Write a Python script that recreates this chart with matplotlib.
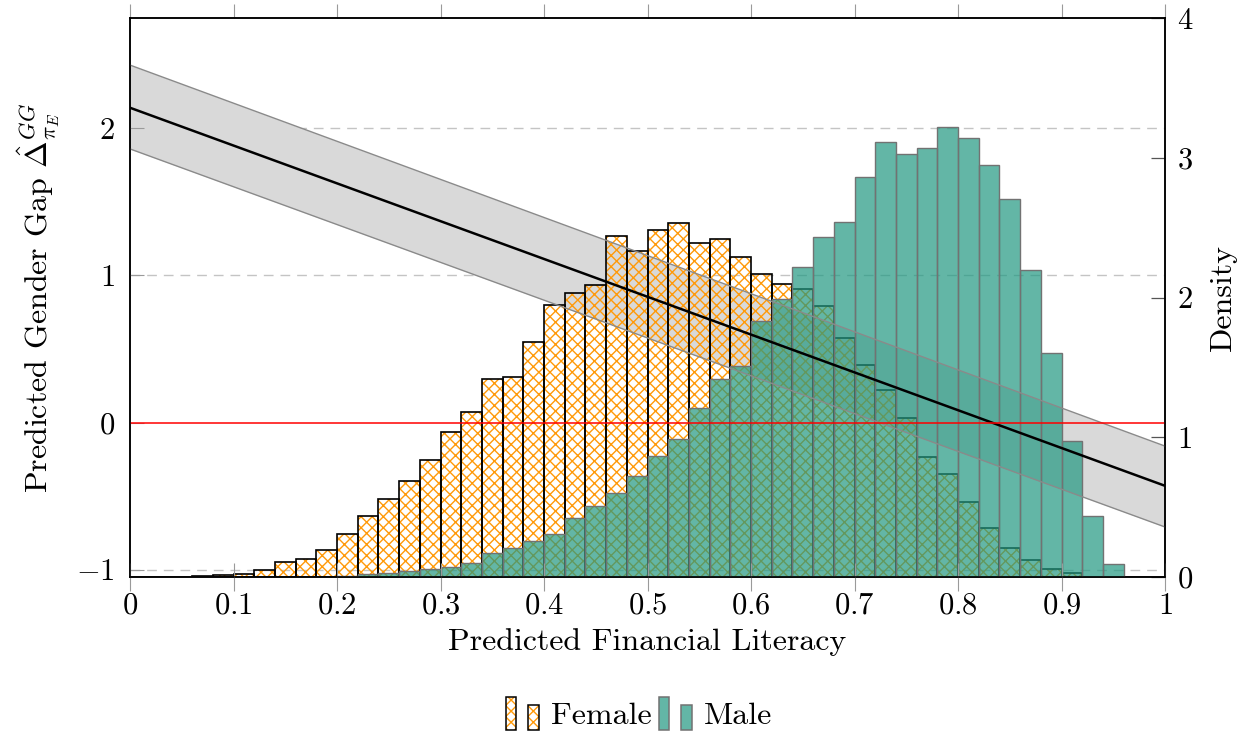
import numpy as np
import matplotlib
matplotlib.use("Agg")
import matplotlib.pyplot as plt
from matplotlib.colors import to_rgba
from matplotlib.patches import Patch, Rectangle
from matplotlib.legend_handler import HandlerBase
from matplotlib.ticker import FuncFormatter

plt.rcParams['font.family'] = 'serif'
plt.rcParams['font.serif'] = ['cmr10']
plt.rcParams['mathtext.fontset'] = 'cm'
plt.rcParams['axes.formatter.use_mathtext'] = True
plt.rcParams['hatch.linewidth'] = 1.0

# histogram bins (width 0.02) and densities
bin_edges = np.linspace(0, 1, 51)
female_density = [0, 0, 0.002, 0.007, 0.012, 0.02, 0.05, 0.11, 0.13, 0.19,
                  0.31, 0.436, 0.557, 0.686, 0.837, 1.04, 1.18, 1.415, 1.43, 1.68,
                  1.95, 2.03, 2.09, 2.44, 2.33, 2.48, 2.53, 2.39, 2.42, 2.29,
                  2.17, 2.10, 2.06, 1.94, 1.71, 1.52, 1.34, 1.14, 0.857, 0.735,
                  0.54, 0.35, 0.21, 0.124, 0.06, 0.026, 0, 0, 0, 0]
male_density = [0, 0, 0, 0, 0, 0, 0, 0, 0, 0,
                0.01, 0.02, 0.026, 0.04, 0.06, 0.07, 0.10, 0.17, 0.21, 0.258,
                0.31, 0.42, 0.51, 0.60, 0.72, 0.866, 0.985, 1.21, 1.42, 1.51,
                1.83, 1.99, 2.22, 2.435, 2.54, 2.86, 3.11, 3.03, 3.07, 3.22,
                3.14, 2.95, 2.705, 2.20, 1.605, 0.975, 0.44, 0.093, 0, 0]

# predicted gender gap (linear fit) with confidence band
fit_x = [0, 1]
fit_gap = [2.14, -0.43]
fit_lo = [1.86, -0.71]
fit_hi = [2.43, -0.16]

lit_ticks = np.round(np.linspace(0, 1, 11), 1)
gap_ticks = [-1, 0, 1, 2]
gap_grid = [-1, 1, 2]
density_ticks = [0, 1, 2, 3, 4]

FS = 23      # axis labels / legend
TFS = 22     # tick labels
female_col = '#ff9a0a'
male_face = to_rgba('#219881', 0.7)
male_edge = '#727272'


class PairedBars(HandlerBase):
    def __init__(self, fill, edge, hatch=None):
        super().__init__()
        self.fill, self.edge, self.hatch = fill, edge, hatch

    def create_artists(self, legend, orig_handle, xdescent, ydescent,
                       width, height, fontsize, trans):
        out = []
        for x0, w, h in [(0.0, 0.28, 1.5), (0.62, 0.32, 1.12)]:
            xy = (x0 * width - xdescent, -ydescent - 0.3 * height)
            if self.hatch:
                out.append(Rectangle(xy, w * width, h * height, facecolor='none',
                                     edgecolor=self.fill, hatch=self.hatch,
                                     lw=0, transform=trans))
                out.append(Rectangle(xy, w * width, h * height, fill=False,
                                     edgecolor=self.edge, lw=1.1, transform=trans))
            else:
                out.append(Rectangle(xy, w * width, h * height, facecolor=self.fill,
                                     edgecolor=self.edge, lw=1.1, transform=trans))
        return out


fig = plt.figure(figsize=(12.53, 7.33), dpi=100)
ax = fig.add_axes([0.1038, 0.2128, 0.8260, 0.7626])
ax2 = ax.twinx()
ax.set_zorder(ax2.get_zorder() + 1)
ax.patch.set_visible(False)

# background layers live on the density axes, but in gap coordinates
for y in gap_grid:
    ax2.plot([0, 1], [y, y], transform=ax.transData, color='#c4c4c4',
             lw=1.0, dashes=(7, 5), zorder=0)
ax2.fill_between(fit_x, fit_lo, fit_hi, transform=ax.transData,
                 color='#d9d9d9', lw=0, zorder=1)

widths = np.diff(bin_edges)
ax2.bar(bin_edges[:-1], female_density, width=widths, align='edge',
        facecolor='none', edgecolor=female_col, hatch='xxx', lw=0, zorder=2)
ax2.bar(bin_edges[:-1], female_density, width=widths, align='edge',
        fill=False, edgecolor='black', lw=1.2, zorder=3)
ax2.bar(bin_edges[:-1], male_density, width=widths, align='edge',
        facecolor=male_face, edgecolor=male_edge, lw=1.0, zorder=4)

# foreground: fit line, band borders, zero line
ax.plot(fit_x, fit_lo, color='#8a8a8a', lw=1.0)
ax.plot(fit_x, fit_hi, color='#8a8a8a', lw=1.0)
ax.plot(fit_x, fit_gap, color='black', lw=1.8)
ax.axhline(0, color='red', lw=1.1)

ax.set_xlim(0, 1)
ax.set_ylim(-1.05, 2.75)
ax2.set_ylim(0, 4)

fmt = FuncFormatter(lambda v, p: f'${v:g}$')
ax.set_xticks(lit_ticks)
ax.set_yticks(gap_ticks)
ax2.set_yticks(density_ticks)
ax.xaxis.set_major_formatter(fmt)
ax.yaxis.set_major_formatter(fmt)
ax2.yaxis.set_major_formatter(fmt)

ax.tick_params(axis='x', direction='inout', length=20, width=0.8,
               color='#9a9a9a', labelsize=TFS, pad=1, top=False)
ax.tick_params(axis='y', direction='in', length=10, width=0.8,
               color='#9a9a9a', labelsize=TFS, pad=11)
ax2.tick_params(axis='y', direction='in', length=10, width=0.9,
                color='#555555', labelsize=TFS, pad=8.5)
ax2.xaxis.set_visible(True)
ax2.tick_params(axis='x', bottom=False, top=True, labelbottom=False,
                labeltop=False, direction='out', length=10, width=0.8,
                color='#9a9a9a')

for a in (ax, ax2):
    for s in a.spines.values():
        s.set_linewidth(1.1)

ax.set_xlabel('Predicted Financial Literacy', fontsize=FS, labelpad=6)
ax.set_ylabel(r'Predicted Gender Gap $\hat{\Delta}^{GG}_{\pi_E}$', fontsize=FS, labelpad=10)
ax2.set_ylabel('Density', fontsize=FS, labelpad=12)

female_proxy = Patch(label='Female')
male_proxy = Patch(label='Male')
fig.legend(handles=[female_proxy, male_proxy], labels=['Female', 'Male'],
           handler_map={female_proxy: PairedBars(female_col, 'black', hatch='xxx'),
                        male_proxy: PairedBars(male_face, male_edge)},
           loc='center', bbox_to_anchor=(0.51, 0.024), ncol=2,
           frameon=False, fontsize=FS, handlelength=1.1, handletextpad=0.3,
           columnspacing=0.25)

fig.savefig('out.png', dpi=100)
